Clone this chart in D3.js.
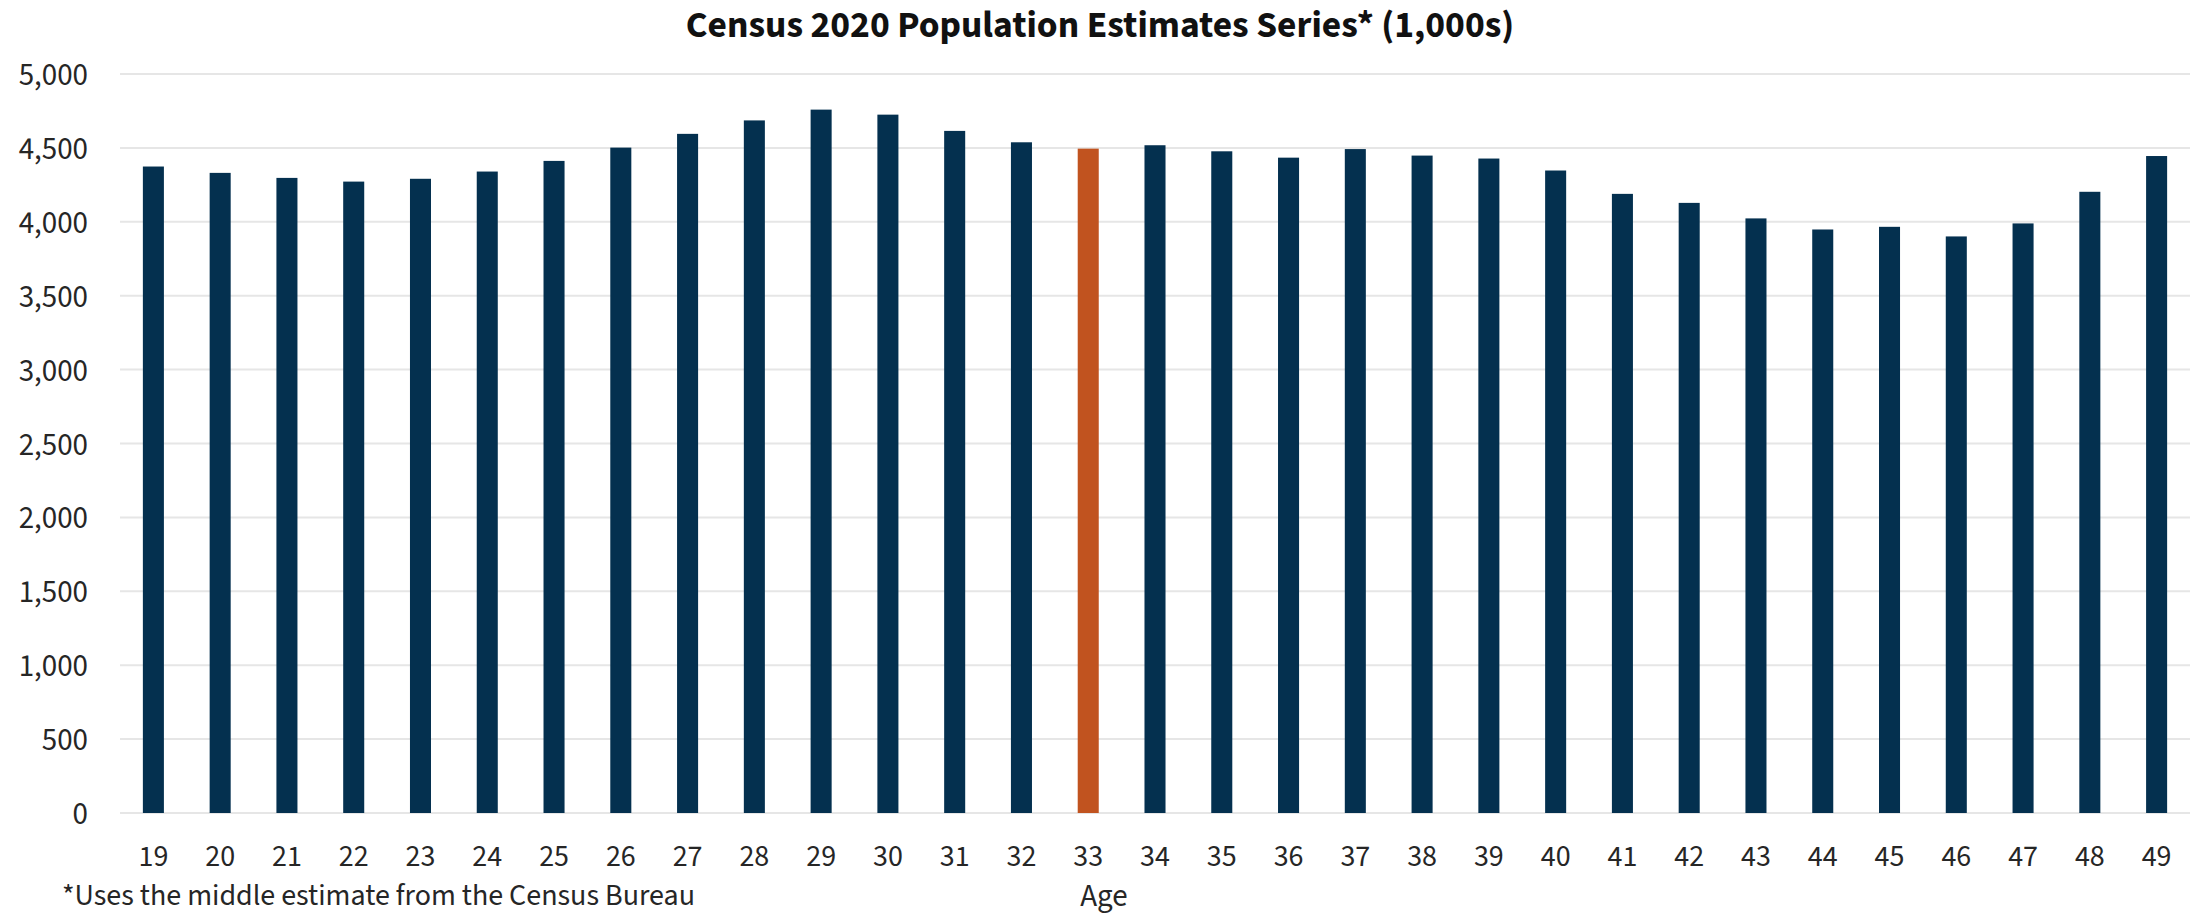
<!DOCTYPE html>
<html>
<head>
<meta charset="utf-8">
<script src="https://cdn.jsdelivr.net/npm/d3@7"></script>
<style>
  html, body { margin: 0; padding: 0; background: #ffffff; }
  svg { display: block; }
  text { font-family: "Source Sans Pro", "Source Sans 3", Lato, "Noto Sans", sans-serif; }
</style>
</head>
<body>
<svg id="chart" width="2201" height="917"></svg>
<script>
// Single-year ages shown on the x axis
const ages = [19, 20, 21, 22, 23, 24, 25, 26, 27, 28, 29, 30, 31, 32, 33, 34,
              35, 36, 37, 38, 39, 40, 41, 42, 43, 44, 45, 46, 47, 48, 49];

// Population estimate per age, in thousands
const population = [4374, 4331, 4297, 4272, 4291, 4340, 4412, 4502, 4595, 4686, 4759,
                    4725, 4615, 4538, 4495, 4518, 4477, 4434, 4492, 4448, 4428, 4347,
                    4189, 4128, 4023, 3948, 3966, 3901, 3989, 4203, 4445];

// Age picked out in the accent colour
const highlightAge = 33;

// Value axis ticks
const yTicks = [0, 500, 1000, 1500, 2000, 2500, 3000, 3500, 4000, 4500, 5000];

const titleText = "Census 2020 Population Estimates Series* (1,000s)";
const xTitle = "Age";
const footnote = "*Uses the middle estimate from the Census Bureau";

const svg = d3.select("#chart");

const plot = { left: 120, right: 2190, top: 74, bottom: 813 };

const x = d3.scaleBand()
  .domain(ages)
  .range([plot.left, plot.right])
  .paddingInner(0.685)
  .paddingOuter(0.3425);

const y = d3.scaleLinear()
  .domain([0, 5000])
  .range([plot.bottom, plot.top]);

// Horizontal gridlines
svg.append("g")
  .selectAll("line")
  .data(yTicks)
  .join("line")
  .attr("x1", plot.left)
  .attr("x2", plot.right)
  .attr("y1", d => y(d))
  .attr("y2", d => y(d))
  .attr("stroke", "#e6e6e6")
  .attr("stroke-width", 2);

// Value axis labels
const yAxis = d3.axisLeft(y)
  .tickValues(yTicks)
  .tickFormat(d3.format(","))
  .tickSize(0)
  .tickPadding(0);

svg.append("g")
  .attr("transform", `translate(${plot.left - 32},0)`)
  .call(yAxis)
  .call(g => g.select(".domain").remove())
  .call(g => g.selectAll("text")
    .attr("fill", "#262626")
    .attr("font-size", 31)
    .attr("dy", "0.34em"));

// Bars
svg.append("g")
  .selectAll("rect")
  .data(ages.map((a, i) => ({ age: a, value: population[i] })))
  .join("rect")
  .attr("x", d => x(d.age))
  .attr("width", x.bandwidth())
  .attr("y", d => y(d.value))
  .attr("height", d => y(0) - y(d.value))
  .attr("fill", d => d.age === highlightAge ? "#c1531f" : "#04304f");

// Category axis labels
const xAxis = d3.axisBottom(x)
  .tickSize(0)
  .tickPadding(0);

svg.append("g")
  .attr("transform", `translate(0,${plot.bottom + 32})`)
  .call(xAxis)
  .call(g => g.select(".domain").remove())
  .call(g => g.selectAll("text")
    .attr("fill", "#262626")
    .attr("font-size", 30)
    .attr("dy", "20.5px"));

// Chart title
svg.append("text")
  .attr("x", 1100)
  .attr("y", 37)
  .attr("text-anchor", "middle")
  .attr("font-size", 37.5)
  .attr("font-weight", "bold")
  .attr("fill", "#111111")
  .text(titleText);

// Axis title
svg.append("text")
  .attr("x", 1104)
  .attr("y", 906)
  .attr("text-anchor", "middle")
  .attr("font-size", 31)
  .attr("fill", "#262626")
  .text(xTitle);

// Source note
svg.append("text")
  .attr("x", 62)
  .attr("y", 905)
  .attr("font-size", 30)
  .attr("fill", "#262626")
  .text(footnote);
</script>
</body>
</html>
